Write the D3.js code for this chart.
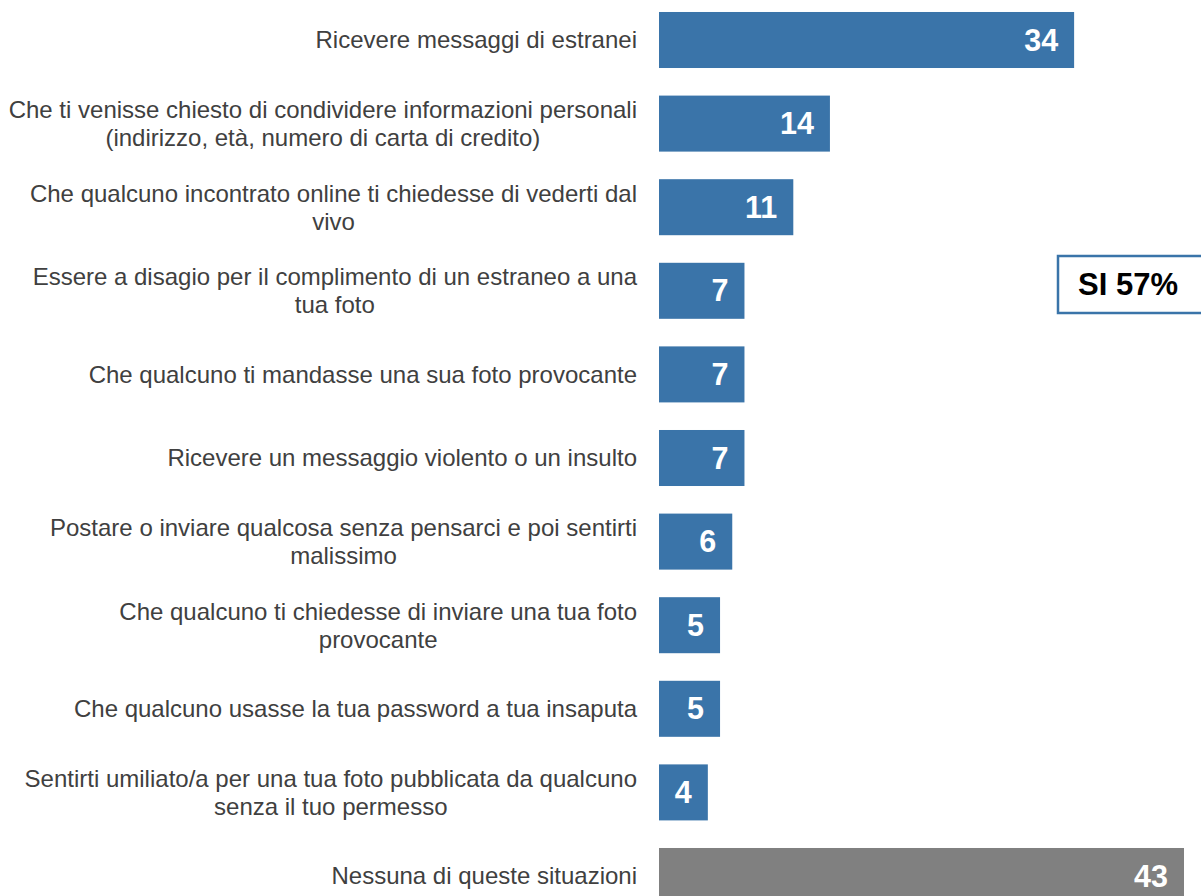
<!DOCTYPE html>
<html>
<head>
<meta charset="utf-8">
<script src="https://cdn.jsdelivr.net/npm/d3@7"></script>
<style>
  html, body { margin: 0; padding: 0; background: #ffffff; }
  svg { display: block; font-family: Arial, "Liberation Sans", sans-serif; }
</style>
</head>
<body>
<svg id="chart" width="1201" height="896"></svg>
<script>
// Situations experienced online (% of respondents), each label split into its display lines
const categories = [
  ["Ricevere messaggi di estranei"],
  ["Che ti venisse chiesto di condividere informazioni personali", "(indirizzo, età, numero di carta di credito)"],
  ["Che qualcuno incontrato online ti chiedesse di vederti dal", "vivo"],
  ["Essere a disagio per il complimento di un estraneo a una", "tua foto"],
  ["Che qualcuno ti mandasse una sua foto provocante"],
  ["Ricevere un messaggio violento o un insulto"],
  ["Postare o inviare qualcosa senza pensarci e poi sentirti", "malissimo"],
  ["Che qualcuno ti chiedesse di inviare una tua foto", "provocante"],
  ["Che qualcuno usasse la tua password a tua insaputa"],
  ["Sentirti umiliato/a per una tua foto pubblicata da qualcuno", "senza il tuo permesso"],
  ["Nessuna di queste situazioni"]
];
const values = [34, 14, 11, 7, 7, 7, 6, 5, 5, 4, 43];
const noneIndex = 10;            // "Nessuna" row is drawn in gray
const totalLabel = "SI 57%";

const svg = d3.select("#chart");

const x0 = 659;
const x = d3.scaleLinear().domain([0, 43]).range([x0, 1184]);

const step = 83.6;
const yTop = -1.8;
const y = d3.scaleBand()
  .domain(d3.range(values.length))
  .range([yTop, yTop + step * values.length])
  .paddingInner(0.33)
  .paddingOuter(0.165);

const blue = "#3A74A9";
const gray = "#808080";

// bars
svg.append("g").selectAll("rect")
  .data(values)
  .join("rect")
  .attr("x", x(0))
  .attr("y", (d, i) => y(i))
  .attr("width", d => x(d) - x(0))
  .attr("height", y.bandwidth())
  .attr("fill", (d, i) => i === noneIndex ? gray : blue);

// value labels inside the bar ends
svg.append("g").selectAll("text")
  .data(values)
  .join("text")
  .attr("x", d => x(d) - 16)
  .attr("y", (d, i) => y(i) + y.bandwidth() / 2)
  .attr("dy", "0.35em")
  .attr("text-anchor", "end")
  .attr("fill", "#ffffff")
  .attr("font-weight", "bold")
  .attr("font-size", 30.5)
  .text(d => d);

// category labels: block right-aligned to the axis, lines centred within the block
const labelRight = 637;
const lineH = 28;
const labels = svg.append("g")
  .attr("font-size", 24)
  .attr("fill", "#404040");

categories.forEach((lines, i) => {
  const cy = y(i) + y.bandwidth() / 2;
  const g = labels.append("g");
  const texts = lines.map((ln, k) => g.append("text")
    .attr("y", cy + (k - (lines.length - 1) / 2) * lineH)
    .attr("dy", "0.35em")
    .attr("text-anchor", "middle")
    .text(ln));
  const maxW = d3.max(texts, t => t.node().getComputedTextLength());
  texts.forEach(t => t.attr("x", labelRight - maxW / 2));
});

// total box on the right
const box = svg.append("g");
box.append("rect")
  .attr("x", 1058)
  .attr("y", 256)
  .attr("width", 170)
  .attr("height", 57)
  .attr("fill", "#ffffff")
  .attr("stroke", blue)
  .attr("stroke-width", 2.5);
box.append("text")
  .attr("x", 1128)
  .attr("y", 284.5)
  .attr("dy", "0.35em")
  .attr("text-anchor", "middle")
  .attr("font-weight", "bold")
  .attr("font-size", 31)
  .attr("fill", "#000000")
  .text(totalLabel);
</script>
</body>
</html>
